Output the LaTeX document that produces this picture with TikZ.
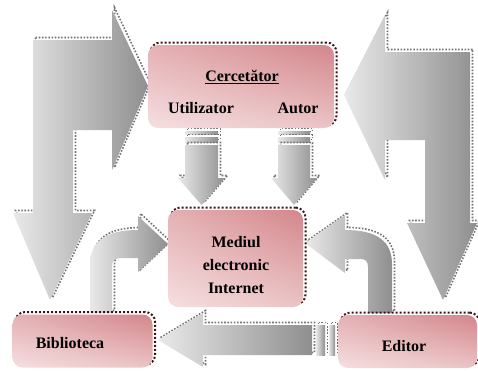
\documentclass[tikz,border=0pt]{standalone}
\usepackage{fontspec}
\setmainfont{Liberation Serif}
\usetikzlibrary{positioning,shadings}

\definecolor{roz}{HTML}{F5DFE0}
\definecolor{rozmediu}{HTML}{E4B1B4}
\definecolor{rozinchis}{HTML}{D3868B}
\definecolor{umbra}{HTML}{3B1414}
\definecolor{grilight}{HTML}{E9E9E9}
\definecolor{gridark}{HTML}{8F8F8F}

\tikzset{
  shadowbox/.style={preaction={draw=umbra, line width=2pt, dash pattern=on 2pt off 2pt,
      transform canvas={shift={(2.5pt,2.5pt)}}}},
  shadowarrow/.style={preaction={draw=black!55, line width=1.6pt, dash pattern=on 1.6pt off 1.6pt,
      transform canvas={shift={(2.5pt,2.5pt)}}}},
  box/.style={shadowbox, rounded corners=10pt, inner sep=0pt,
      upper left=rozmediu, upper right=rozinchis, lower left=roz, lower right=rozmediu!60!roz},
  lbl/.style={font=\bfseries\fontsize{16}{23}\selectfont, align=center, inner sep=0pt},
  bloc/.style={shadowarrow, left color=grilight, right color=gridark},
}

\begin{document}
\begin{tikzpicture}[x=1pt,y=-1pt]
    \useasboundingbox (0,0) rectangle (478,370);

    % big bent arrows
    \shade[bloc] (33,40) -- (112,40) -- (112,10) -- (148,86) -- (112,170) -- (112,130)
        -- (73,130) -- (73,213) -- (92,213) -- (50,300) -- (13,213) -- (33,213) -- cycle;
    \shade[bloc] (470,52) -- (385,52) -- (385,15) -- (344,95) -- (385,180) -- (385,140)
        -- (425,140) -- (425,223) -- (407,223) -- (443,300) -- (477,223) -- (470,223) -- cycle;

    % striped arrows down
    \foreach \xa/\xb in {185/218, 278/310} {
        \shade[bloc] (\xa,131) rectangle (\xb,134);
        \shade[bloc] (\xa,137) rectangle (\xb,142);
        \shade[bloc] (\xa,145) -- (\xb,145) -- (\xb,178) -- (\xb+7,178)
            -- ({(\xa+\xb)/2},205) -- (\xa-7,178) -- (\xa,178) -- cycle;
    }

    % striped arrow left
    \shade[bloc] (158,340) -- (203,313) -- (203,325) -- (312,325) -- (312,355)
        -- (203,355) -- (203,367) -- cycle;
    \shade[bloc] (316,325) rectangle (325,355);
    \shade[bloc] (329,325) rectangle (335,355);

    % curved arrows
    \shade[bloc] (90,313) -- (90,264) .. controls (90,242) and (105,230) .. (138,230)
        -- (138,216) -- (168,244) -- (138,272) -- (138,258) -- (119,258)
        .. controls (114,258) and (112,262) .. (112,267) -- (112,313) -- cycle;
    \shade[bloc] (392,313) -- (392,264) .. controls (392,242) and (378,230) .. (345,230)
        -- (345,215) -- (305,243) -- (345,273) -- (345,259) -- (361,259)
        .. controls (366,259) and (368,262) .. (368,267) -- (368,313) -- cycle;

    % boxes
    \node[box, minimum width=186pt, minimum height=83pt] (cercetator) at (241,86.5) {};
    \node[box, minimum width=135pt, minimum height=97pt] (mediul) at (235.5,258.5) {};
    \node[box, minimum width=140pt, minimum height=53pt] (biblioteca) at (82.5,341) {};
    \node[box, minimum width=139pt, minimum height=53pt] (editor) at (407.5,341.5) {};

    \node[lbl] (titlu) at (242,77) {\underline{Cercetător}};
    \node[lbl] (utilizator) at (201,108) {Utilizator};
    \node[lbl] (autor) at (298,108) {Autor};
    \node[lbl] (mediultext) at (236,265) {Mediul\\electronic\\Internet};
    \node[lbl] (bibliotecatext) at (70,343) {Biblioteca};
    \node[lbl] (editortext) at (404,346) {Editor};
\end{tikzpicture}
\end{document}
